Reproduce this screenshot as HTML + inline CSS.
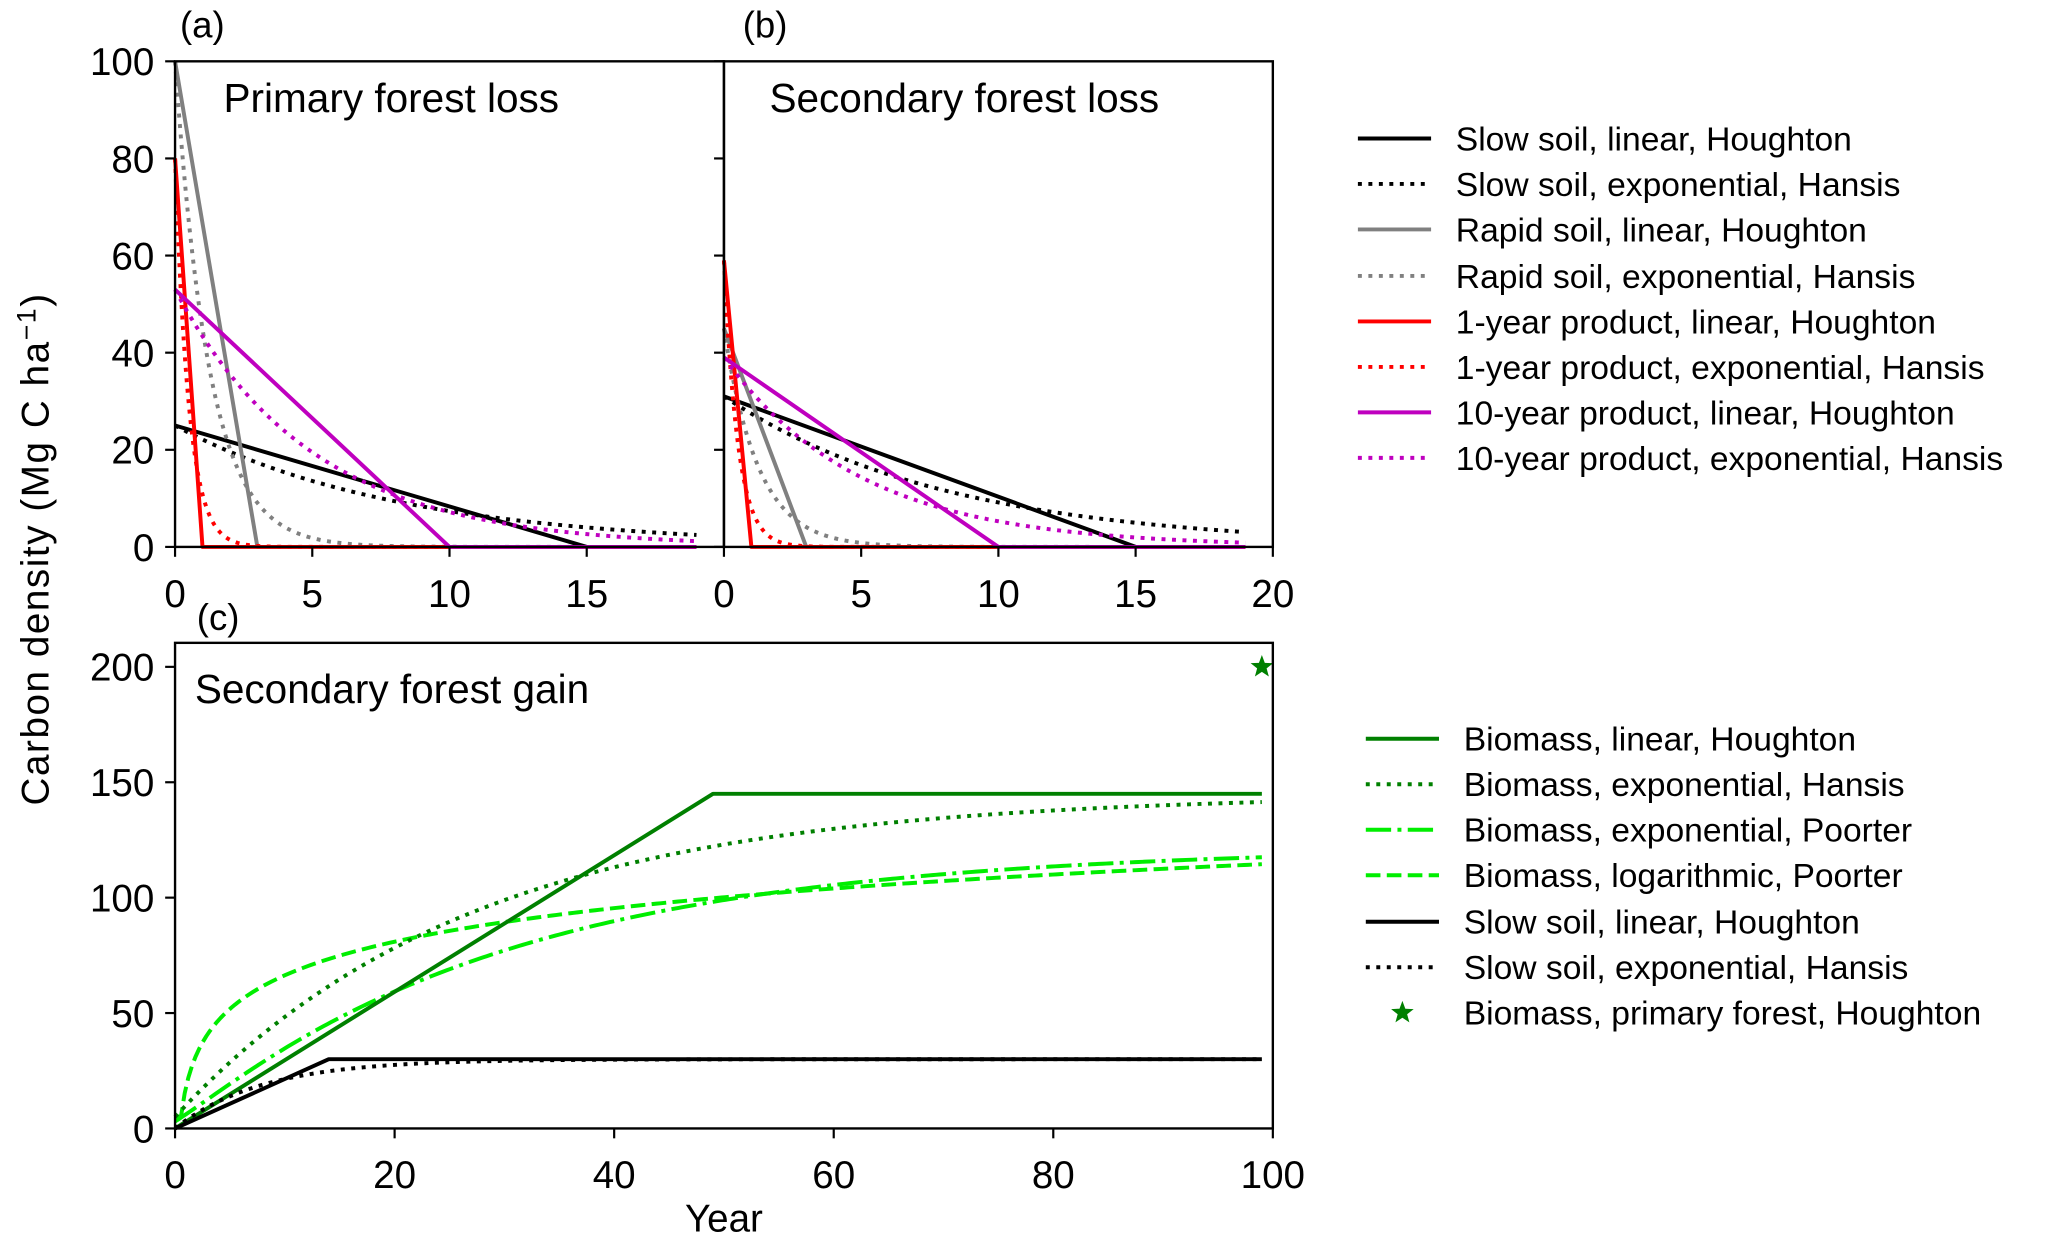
<!DOCTYPE html>
<html><head><meta charset="utf-8"><style>
html,body{margin:0;padding:0;background:#fff;}
svg{display:block;font-family:"Liberation Sans",Arial,sans-serif;}
</style></head><body>
<svg id="fig" width="2067" height="1246" viewBox="0 0 2067 1246" xmlns="http://www.w3.org/2000/svg"><g id="root" transform="scale(0.989)"></g></svg>
<script>
// ---------- data ----------
const lossSeries = ["Slow soil","Rapid soil","1-year product","10-year product"];
const lossColors = ["#000000","#808080","#ff0000","#bf00bf"];
const primaryStart = [25, 100, 80, 53];
const secondaryStart = [31, 45, 59, 39];
const linearEndYear = [15, 3, 1, 10];
const expTau = [8.2, 1.25, 0.5, 5];
const lossYears = [0, 19];
const lossXTicks = [0, 5, 10, 15];
const lossXTicksB = [0, 5, 10, 15, 20];
const lossYTicks = [0, 20, 40, 60, 80, 100];
// panel c
const gainYears = [0, 99];
const biomassMax = [145];
const biomassLinEnd = [49];
const biomassHansisTau = [27];
const biomassHansisStart = [5];
const poorterExpMax = [122];
const poorterExpTau = [30];
const poorterLogA = [18];
const poorterLogB = [21];
const soilMax = [30];
const soilLinEnd = [14];
const soilTau = [8];
const primaryBiomass = [99, 200];
const gainXTicks = [0, 20, 40, 60, 80, 100];
const gainYTicks = [0, 50, 100, 150, 200];

const NS = "http://www.w3.org/2000/svg";
const svg = document.getElementById("root");
function el(tag, attrs, parent){const e=document.createElementNS(NS,tag);for(const k in attrs)e.setAttribute(k,attrs[k]);(parent||svg).appendChild(e);return e;}
function txt(s, attrs, parent){const e=el("text",attrs,parent);e.textContent=s;return e;}

const LW = 4;
const dashes = {solid:"", dotted:"4 6.6", dashed:"14.8 6.4", dashdot:"25.6 6.4 4 6.4"};

function axes(x0,x1,y0,y1,xmin,xmax,ymin,ymax){
  return {sx:v=>x0+(v-xmin)/(xmax-xmin)*(x1-x0), sy:v=>y1-(v-ymin)/(ymax-ymin)*(y1-y0), x0,x1,y0,y1};
}
function drawLine(ax, pts, color, style, name, g){
  const d = pts.map((p,i)=>(i?"L":"M")+ax.sx(p[0]).toFixed(2)+" "+ax.sy(p[1]).toFixed(2)).join(" ");
  const p = el("path",{d, fill:"none", stroke:color, "stroke-width":LW, "stroke-dasharray":dashes[style], "stroke-linejoin":"round"}, g);
  
  
  return p;
}
function sample(f, t0, t1, n){const r=[];for(let i=0;i<=n;i++){const t=t0+(t1-t0)*i/n;r.push([t,f(t)]);}return r;}

function frame(ax, name){
  const r = el("rect",{x:ax.x0,y:ax.y0,width:ax.x1-ax.x0,height:ax.y1-ax.y0,fill:"none",stroke:"#000","stroke-width":2.4});
  
  
}
function xTicks(ax, ticks, labelY, name){
  const g = el("g",{});
  
  
  ticks.forEach(t=>{
    const x=ax.sx(t);
    el("line",{x1:x,x2:x,y1:ax.y1,y2:ax.y1+10,stroke:"#000","stroke-width":2.2},g);
    txt(String(t),{x:x,y:labelY,"font-size":39,"text-anchor":"middle"},g);
  });
}
function yTicks(ax, ticks, labels, name){
  const g = el("g",{});
  
  
  ticks.forEach(t=>{
    const y=ax.sy(t);
    el("line",{x1:ax.x0-10,x2:ax.x0,y1:y,y2:y,stroke:"#000","stroke-width":2.2},g);
    if(labels) txt(String(t),{x:ax.x0-21,y:y+14,"font-size":39,"text-anchor":"end"},g);
  });
}

// ---------- panels a & b ----------
const axA = axes(177,732,62,553,0,20,0,100);
const axB = axes(732,1287,62,553,0,20,0,100);
function lossPanel(ax, starts, tag){
  const g = el("g",{});
  
  
  for(let i=0;i<lossSeries.length;i++){
    const s=starts[i], e=linearEndYear[i], tau=expTau[i];
    drawLine(ax, sample(t=>s*Math.exp(-t/tau), lossYears[0], lossYears[1], 400), lossColors[i], "dotted", tag+"-"+i+"-exponential", g);
    drawLine(ax, [[0,s],[e,0],[lossYears[1],0]], lossColors[i], "solid", tag+"-"+i+"-linear", g);
  }
}
lossPanel(axA, primaryStart, "primary-loss");
lossPanel(axB, secondaryStart, "secondary-loss");
frame(axA,"panel-a-frame"); frame(axB,"panel-b-frame");
xTicks(axA, lossXTicks, 614, "panel-a-x-ticks");
xTicks(axB, lossXTicksB, 614, "panel-b-x-ticks");
yTicks(axA, lossYTicks, true, "panel-a-y-ticks");
yTicks(axB, lossYTicks, false, "panel-b-y-ticks");

// ---------- panel c ----------
const axC = axes(177,1287,650,1141,0,100,0,210.4);
const gc = el("g",{});


drawLine(axC, [[0,5]].concat(sample(t=>poorterLogA[0]+poorterLogB[0]*Math.log(t), 0.55, gainYears[1], 300)), "#00ee00", "dashed", "biomass-logarithmic-poorter", gc);
drawLine(axC, sample(t=>poorterExpMax[0]*(1-Math.exp(-t/poorterExpTau[0]))+3*Math.exp(-t/3), 0, gainYears[1], 300), "#00ee00", "dashdot", "biomass-exponential-poorter", gc);
drawLine(axC, sample(t=>biomassHansisStart[0]+(biomassMax[0]-biomassHansisStart[0])*(1-Math.exp(-t/biomassHansisTau[0])), 0, gainYears[1], 300), "#008000", "dotted", "biomass-exponential-hansis", gc);
drawLine(axC, [[0,0],[biomassLinEnd[0],biomassMax[0]],[gainYears[1],biomassMax[0]]], "#008000", "solid", "biomass-linear-houghton", gc);
drawLine(axC, sample(t=>soilMax[0]*(1-Math.exp(-t/soilTau[0])), 0, gainYears[1], 300), "#000", "dotted", "soil-exponential-hansis", gc);
drawLine(axC, [[0,0],[soilLinEnd[0],soilMax[0]],[gainYears[1],soilMax[0]]], "#000", "solid", "soil-linear-houghton", gc);
function star(cx,cy,r,color,parent,name){
  let d="";for(let i=0;i<10;i++){const a=-Math.PI/2+i*Math.PI/5;const rr=i%2?r*0.42:r;d+=(i?"L":"M")+(cx+rr*Math.cos(a)).toFixed(2)+" "+(cy+rr*Math.sin(a)).toFixed(2);}
  const p=el("path",{d:d+"Z",fill:color},parent);
  
  
}
star(axC.sx(primaryBiomass[0]), axC.sy(primaryBiomass[1]), 12, "#008000", gc, "primary-forest-biomass-star");
frame(axC,"panel-c-frame");
xTicks(axC, gainXTicks, 1201, "panel-c-x-ticks");
yTicks(axC, gainYTicks, true, "panel-c-y-ticks");

// ---------- text ----------
function label(s,x,y,size,name,extra){const t=txt(s,Object.assign({x,y,"font-size":size},extra||{}));return t;}
label("(a)",182,38,37,"panel-a-label");
label("(b)",751,38,37,"panel-b-label");
label("(c)",199,637,37,"panel-c-label");
label("Primary forest loss",226,113,41,"panel-a-title");
label("Secondary forest loss",778,113,41,"panel-b-title");
label("Secondary forest gain",197,711,41,"panel-c-title");
label("Year",732,1245,39,"x-axis-title",{"text-anchor":"middle"});
const yl = label("",0,0,39,"y-axis-title",{"text-anchor":"middle","letter-spacing":"1.6",transform:"translate(49,555) rotate(-90)"});
yl.innerHTML = 'Carbon density (Mg C ha<tspan dy="-13" font-size="27">−1</tspan><tspan dy="13">)</tspan>';

// ---------- legends ----------
const legend1Labels = ["Slow soil, linear, Houghton","Slow soil, exponential, Hansis","Rapid soil, linear, Houghton","Rapid soil, exponential, Hansis","1-year product, linear, Houghton","1-year product, exponential, Hansis","10-year product, linear, Houghton","10-year product, exponential, Hansis"];
const legend1Y = [140,186,232,279,325,371,417,463];
const g1 = el("g",{});


legend1Labels.forEach((s,i)=>{
  const c=lossColors[Math.floor(i/2)];
  const ln=el("line",{x1:1373,x2:1447,y1:legend1Y[i],y2:legend1Y[i],stroke:c,"stroke-width":LW,"stroke-dasharray":dashes[i%2?"dotted":"solid"]},g1);
  
  
  const t=txt(s,{x:1472,y:legend1Y[i]+12,"font-size":34},g1);
  
  
});
const legend2Labels = ["Biomass, linear, Houghton","Biomass, exponential, Hansis","Biomass, exponential, Poorter","Biomass, logarithmic, Poorter","Slow soil, linear, Houghton","Slow soil, exponential, Hansis","Biomass, primary forest, Houghton"];
const legend2Colors = ["#008000","#008000","#00ee00","#00ee00","#000","#000","#008000"];
const legend2Styles = ["solid","dotted","dashdot","dashed","solid","dotted","star"];
const legend2Y = [747,793,839,885,932,978,1024];
const g2 = el("g",{});


legend2Labels.forEach((s,i)=>{
  if(legend2Styles[i]==="star"){ star(1418,legend2Y[i],12,legend2Colors[i],g2,"legend-star"); }
  else {
    const ln=el("line",{x1:1381,x2:1455,y1:legend2Y[i],y2:legend2Y[i],stroke:legend2Colors[i],"stroke-width":LW,"stroke-dasharray":dashes[legend2Styles[i]]},g2);
    
    
  }
  const t=txt(s,{x:1480,y:legend2Y[i]+12,"font-size":34},g2);
  
  
});
</script>
</body></html>
